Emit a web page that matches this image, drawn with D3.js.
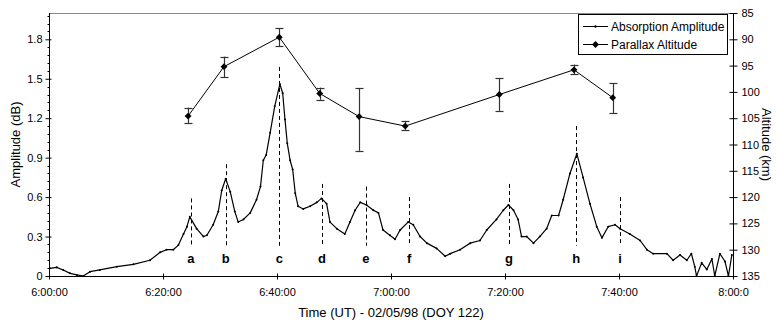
<!DOCTYPE html>
<html><head><meta charset="utf-8">
<script src="https://cdn.jsdelivr.net/npm/d3@7"></script>
<style>
html,body{margin:0;padding:0;background:#fff;}
svg{display:block;font-family:"Liberation Sans",Arial,sans-serif;}
</style></head>
<body><svg id="c" width="776" height="327"></svg>
<script>
// ---- data ----
// absorption amplitude: minutes after 06:00 UT, amplitude (dB)
const absTime = [0.2,1.35,2.5,3.7,4.9,6.0,7.2,8.9,11.9,14.8,17.7,19.5,20.6,21.8,22.7,23.6,24.2,24.7,25.9,27.1,27.7,28.8,29.7,30.3,31.0,31.8,32.6,33.2,34.1,35.3,36.4,37.1,37.6,38.1,38.8,39.6,40.5,41.0,41.4,41.8,42.3,42.75,43.2,43.7,44.6,45.8,47.0,47.8,48.7,49.3,50.5,51.9,52.8,53.7,54.6,55.7,56.9,57.8,58.6,59.8,60.7,61.6,63.0,63.9,65.1,66.3,68.0,69.5,70.4,72.1,73.9,75.6,76.8,78.5,79.7,80.6,81.5,82.3,82.9,83.8,85.0,86.1,87.3,88.2,89.4,90.2,91.4,92.6,93.7,94.9,96.1,97.0,98.1,99.3,100.2,101.9,103.7,104.9,106.0,108.4,109.5,110.7,111.9,112.7,113.3,113.6,114.5,115.4,116.3,116.8,117.7,118.6,119.2,119.8];
const absValue = [0.058,0.066,0.046,0.02,0.008,0.0,0.033,0.046,0.071,0.089,0.12,0.18,0.2,0.2,0.235,0.32,0.375,0.45,0.36,0.30,0.31,0.39,0.49,0.65,0.74,0.64,0.49,0.41,0.43,0.48,0.58,0.68,0.88,0.92,1.09,1.29,1.46,1.39,1.19,1.01,0.88,0.81,0.63,0.53,0.51,0.53,0.56,0.59,0.55,0.41,0.36,0.32,0.41,0.50,0.56,0.54,0.50,0.48,0.35,0.31,0.28,0.35,0.41,0.39,0.30,0.25,0.21,0.15,0.17,0.20,0.25,0.27,0.35,0.43,0.50,0.54,0.50,0.43,0.30,0.30,0.25,0.30,0.36,0.46,0.46,0.58,0.78,0.93,0.75,0.55,0.375,0.29,0.375,0.39,0.36,0.32,0.27,0.20,0.17,0.17,0.12,0.16,0.12,0.17,0.07,0.0,0.10,0.05,0.13,0.0,0.17,0.11,0.0,0.16];

// parallax altitude (km) with error bar limits
const parTime  = [24.4,30.7,40.4,47.5,54.4,62.5,79.0,92.1,98.9];
const parAlt   = [104.6,95.2,89.6,100.3,104.7,106.5,100.5,95.8,101.1];
const parLow   = [103.0,93.3,87.9,99.2,99.3,105.5,97.4,94.8,98.4];
const parHigh  = [105.9,97.2,91.3,101.5,111.2,107.2,103.6,96.6,104.0];

// event markers
const peakNames = ["a","b","c","d","e","f","g","h","i"];
const peakTime  = [24.9,31.0,40.4,47.9,55.6,63.2,80.7,92.5,100.2];
const peakTop   = [0.59,0.85,1.59,0.70,0.68,0.60,0.70,1.14,0.60];
const peakBottom = 0.23;

// axes
const xTicks = [0,20,40,60,80,100,120];
const xTickLabels = ["6:00:00","6:20:00","6:40:00","7:00:00","7:20:00","7:40:00","8:00:0"];
const yTicks = [0,0.3,0.6,0.9,1.2,1.5,1.8];
const yTickLabels = ["0","0.3","0.6","0.9","1.2","1.5","1.8"];
const y2Ticks = [85,90,95,100,105,110,115,120,125,130,135];

// ---- drawing ----
const svg = d3.select("#c");
const L=49, R=733, T=13, B=276;
const x = d3.scaleLinear().domain([0,120]).range([L,R]);
const y = d3.scaleLinear().domain([0,2]).range([B,T]);
const y2 = d3.scaleLinear().domain([85,135]).range([T,B]);
const FF = "Liberation Sans, Arial, sans-serif";

// top border
svg.append("line").attr("x1",L).attr("x2",R).attr("y1",T+0.5).attr("y2",T+0.5)
  .attr("stroke","#888").attr("stroke-width",1);

// left axis
const yAx = d3.axisLeft(y).tickValues(yTicks).tickFormat((d,i)=>yTickLabels[i]).tickSize(4).tickPadding(3);
const gy = svg.append("g").attr("transform",`translate(${L+0.5},0)`).call(yAx);
gy.select(".domain").attr("d",`M0,${T}V${B}`).attr("stroke","#000");
gy.selectAll(".tick line").attr("x2",-4).attr("x1",2);
const yMinor = d3.range(0,2.0001,0.06).filter(v=>!yTicks.some(t=>Math.abs(t-v)<1e-6));
gy.selectAll(".minor").data(yMinor).enter().append("line")
  .attr("x1",-2).attr("x2",0).attr("y1",d=>Math.round(y(d))+0.5).attr("y2",d=>Math.round(y(d))+0.5).attr("stroke","#000");
gy.selectAll("text").attr("font-size",11).attr("fill","#000").attr("font-family",FF);

// right axis
const y2Ax = d3.axisRight(y2).tickValues(y2Ticks).tickSize(4).tickPadding(4);
const gy2 = svg.append("g").attr("transform",`translate(${R+0.5},0)`).call(y2Ax);
gy2.select(".domain").attr("d",`M0,${T}V${B}`).attr("stroke","#000");
gy2.selectAll(".tick line").attr("x1",-4).attr("x2",4);
gy2.selectAll("text").attr("font-size",11).attr("fill","#000").attr("font-family",FF);

// bottom axis
const xAx = d3.axisBottom(x).tickValues(xTicks).tickFormat((d,i)=>xTickLabels[i]).tickSize(3).tickPadding(9);
const gx = svg.append("g").attr("transform",`translate(0,${B+0.5})`).call(xAx);
gx.select(".domain").attr("d",`M${L},0H${R}`).attr("stroke","#000");
gx.selectAll(".tick line").attr("y1",-3).attr("y2",3);
gx.selectAll("text").attr("font-size",11).attr("fill","#000").attr("font-family",FF);

// titles
svg.append("text").attr("transform",`translate(15,${(T+B)/2}) rotate(-90)`).attr("text-anchor","middle")
  .attr("dominant-baseline","central").attr("font-size",13).text("Amplitude (dB)");
svg.append("text").attr("transform",`translate(766,${(T+B)/2}) rotate(90)`).attr("text-anchor","middle")
  .attr("dominant-baseline","central").attr("font-size",13).text("Altitude (km)");
svg.append("text").attr("x",391).attr("y",317).attr("text-anchor","middle").attr("font-size",13).text("Time (UT) - 02/05/98 (DOY 122)");

// event dashed lines and labels
const pk = svg.append("g");
peakNames.forEach((n,i)=>{
  pk.append("line").attr("x1",Math.round(x(peakTime[i]))+0.5).attr("x2",Math.round(x(peakTime[i]))+0.5)
    .attr("y1",y(peakTop[i])).attr("y2",y(peakBottom))
    .attr("stroke","#000").attr("stroke-width",1).attr("stroke-dasharray","4,3");
  pk.append("text").attr("x",x(peakTime[i])).attr("y",263).attr("text-anchor","middle")
    .attr("font-size",13).attr("font-weight","bold").text(n);
});

// absorption line
const absData = absTime.map((t,i)=>[t,absValue[i]]);
svg.append("path").datum(absData)
  .attr("d",d3.line().x(d=>x(d[0])).y(d=>y(d[1])))
  .attr("fill","none").attr("stroke","#000").attr("stroke-width",1.2).attr("stroke-linejoin","round");
svg.append("g").selectAll("circle").data(absData).enter().append("circle")
  .attr("cx",d=>x(d[0])).attr("cy",d=>y(d[1])).attr("r",1).attr("fill","#000");

// parallax line
const parData = parTime.map((t,i)=>({t,a:parAlt[i],lo:parLow[i],hi:parHigh[i]}));
const eb = svg.append("g");
parData.forEach(d=>{
  const cx = Math.round(x(d.t))+0.5;
  eb.append("line").attr("x1",cx).attr("x2",cx).attr("y1",y2(d.lo)).attr("y2",y2(d.hi)).attr("stroke","#333").attr("stroke-width",1.2);
  [d.lo,d.hi].forEach(v=>eb.append("line").attr("x1",cx-4).attr("x2",cx+4).attr("y1",Math.round(y2(v))+0.5).attr("y2",Math.round(y2(v))+0.5).attr("stroke","#333").attr("stroke-width",1.2));
});
svg.append("path").datum(parData)
  .attr("d",d3.line().x(d=>x(d.t)).y(d=>y2(d.a)))
  .attr("fill","none").attr("stroke","#000").attr("stroke-width",1);
const diamond = d3.symbol().type(d3.symbolDiamond2).size(30);
svg.append("g").selectAll("path").data(parData).enter().append("path")
  .attr("d",diamond).attr("transform",d=>`translate(${x(d.t)},${y2(d.a)})`).attr("fill","#000");

// legend
const lg = svg.append("g");
lg.append("rect").attr("x",578.5).attr("y",14.5).attr("width",149).attr("height",40).attr("fill","#fff").attr("stroke","#000");
lg.append("line").attr("x1",583).attr("x2",608).attr("y1",26.5).attr("y2",26.5).attr("stroke","#000");
lg.append("circle").attr("cx",595.5).attr("cy",26.5).attr("r",1.2).attr("fill","#000");
lg.append("text").attr("x",611).attr("y",26.5).attr("dominant-baseline","central").attr("font-size",12).text("Absorption Amplitude");
lg.append("line").attr("x1",583).attr("x2",608).attr("y1",44.5).attr("y2",44.5).attr("stroke","#000");
lg.append("path").attr("d",diamond).attr("transform","translate(595.5,44.5)").attr("fill","#000");
lg.append("text").attr("x",611).attr("y",44.5).attr("dominant-baseline","central").attr("font-size",12).text("Parallax Altitude");
</script></body></html>
